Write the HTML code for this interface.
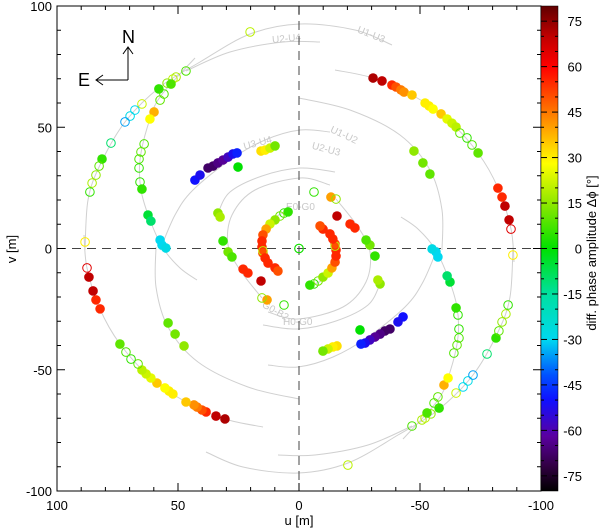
<!DOCTYPE html>
<html><head><meta charset="utf-8"><style>
html,body{margin:0;padding:0;background:#fff;width:600px;height:530px;overflow:hidden}
svg text{font-family:"Liberation Sans",sans-serif}
</style></head><body>
<svg id="chart" width="600" height="530" viewBox="0 0 600 530" xmlns="http://www.w3.org/2000/svg">
<defs><linearGradient id="cbg" x1="0" y1="0" x2="0" y2="1"></linearGradient>
<clipPath id="pc"><rect x="57" y="6" width="484" height="485"/></clipPath></defs>
<g id="tracks" clip-path="url(#pc)"></g>
<g id="tracklabels" fill="#c8c8c8" font-size="10">
<text x="272" y="42" transform="rotate(-5 283 38)">U2-U4</text>
<text x="357" y="38" transform="rotate(22 372 34)">U1-U3</text>
<text x="243" y="146" transform="rotate(-15 258 142)">U3-U4</text>
<text x="330" y="138" transform="rotate(25 344 134)">U1-U2</text>
<text x="312" y="152" transform="rotate(15 325 148)">U2-U3</text>
<text x="286" y="210">E0-G0</text>
<text x="283" y="325">H0-G0</text>
<text x="262" y="312" transform="rotate(30 272 308)">G0-B2</text>
</g>
<g id="guides" stroke="#444" stroke-width="1" stroke-dasharray="9,6">
<line x1="299" y1="6" x2="299" y2="491"/><line x1="57" y1="248.5" x2="541" y2="248.5"/></g>
<g id="points" clip-path="url(#pc)"></g>
<rect x="57" y="6" width="484" height="485" fill="none" stroke="#000" stroke-width="1"/>
<g id="ticks" stroke="#000" stroke-width="1"></g>
<g id="ticklabels" font-size="13" fill="#000"></g>
<text x="299" y="525" font-size="13" text-anchor="middle">u [m]</text>
<text x="16" y="249" font-size="13" text-anchor="middle" transform="rotate(-90 16 249)">v [m]</text>
<g stroke="#000" stroke-width="1" fill="none">
<line x1="128" y1="80" x2="128" y2="47"/><polyline points="123,54 128,47 133,54"/>
<line x1="128" y1="80" x2="96" y2="80"/><polyline points="103,75 96,80 103,85"/></g>
<text x="122" y="43" font-size="18">N</text>
<text x="78" y="86" font-size="18">E</text>
<rect x="541" y="6" width="17" height="485" fill="url(#cbg)" stroke="#000" stroke-width="0.5"/>
<g id="cbticks" stroke="#000" stroke-width="1"></g>
<g id="cblabels" font-size="13" fill="#000"></g>
<text x="596" y="253" font-size="13" text-anchor="middle" transform="rotate(-90 596 253)">diff. phase amplitude Δϕ [°]</text>
</svg>
<script>
const uVals=[20.2,46.7,50.8,52.1,54.5,52.9,57.9,55.8,57.4,64.9,67.8,69.8,71.9,77.7,81.4,82.6,83.9,85.5,86.4,88.4,
59.9,61.6,64.0,65.3,66.1,66.1,65.7,64.9,62.4,61.2,57.4,56.6,55.0,
43.0,40.9,37.6,35.5,33.5,31.4,29.3,27.3,25.6,25.2,15.7,14.0,12.0,9.9,
33.5,32.6,31.4,29.3,27.7,23.1,21.1,15.7,13.2,15.3,6.2,
4.5,6.2,7.9,9.9,12.0,13.6,14.9,15.3,15.3,14.9,14.9,14.0,12.8,9.9,8.7,
-30.6,-34.3,-38.4,-40.1,-42.1,-43.4,-46.7,-52.1,-53.7,-55.4,-58.7,-61.2,-63.2,-64.9,-66.5,-69.4,-71.5,-74.0,-82.2,-83.9,-85.1,-86.8,-87.6,
-47.5,-51.2,-54.1,0];
const vVals=[89.3,73.2,70.7,69.9,68.2,67.8,65.8,63.7,61.2,59.6,57.1,54.6,52.2,43.5,36.9,34.0,30.3,27.0,23.3,2.7,
56.3,53.4,43.1,39.8,36.9,33.2,27.4,24.5,13.8,11.3,3.5,1.4,0.2,
28.2,30.3,33.2,34.0,35.3,36.5,37.7,39.0,39.4,33.6,40.2,40.6,41.4,42.3,
14.6,13.0,3.1,-1.4,-3.5,-8.5,-10.1,-13.4,-21.2,-20.4,-23.3,
15.1,14.6,13.4,11.8,10.1,8.0,5.6,3.1,0.6,-1.9,-1.0,-3.9,-6.0,-8.0,-9.3,
70.3,69.1,67.4,66.6,65.4,64.5,63.3,60.0,58.8,57.5,55.5,53.4,51.7,50.1,47.6,45.6,42.7,39.4,24.9,21.2,17.5,11.8,8.0,
40.2,35.3,30.7,0];
const phaseVals=[20,8,18,20,15,8,5,8,10,22,-30,-28,-35,-10,5,10,15,18,5,30,
38,28,8,10,8,5,5,5,-5,-10,-30,-30,-28,
-50,-52,-68,-68,-65,-63,-58,-52,-48,0,32,30,22,12,
15,18,5,12,8,55,55,70,40,15,5,
5,5,12,15,22,40,50,55,55,50,20,55,55,55,50,
72,70,55,50,45,42,35,30,30,28,35,25,22,20,10,5,8,10,55,55,70,70,65,
15,12,10,2];
const filledFlags=[0,0,0,0,0,1,1,0,0,0,0,0,0,0,1,0,0,0,0,0,
1,1,0,0,0,0,0,1,1,1,1,1,1,
1,1,1,1,1,1,1,1,1,1,1,1,1,1,
1,1,1,1,1,1,1,1,1,0,0,
1,0,0,1,1,1,1,1,1,1,0,1,1,1,1,
1,1,1,1,1,1,1,1,1,1,1,1,1,1,0,0,0,1,1,1,1,1,0,
1,1,1,0];
const xTicks=[100,50,0,-50,-100];
const yTicks=[100,50,0,-50,-100];
const cbTicks=[75,60,45,30,15,0,-15,-30,-45,-60,-75];

const NS='http://www.w3.org/2000/svg';
const X0=57,X1=541,Y0=6,Y1=491;
const xs=u=>X0+(100-u)/200*(X1-X0);
const ys=v=>Y0+(100-v)/200*(Y1-Y0);
const cbY=p=>Y0+(80-p)/160*(Y1-Y0);
const stops=[[-80,'#000000'],[-72,'#300040'],[-62,'#5a00a0'],[-50,'#1010ff'],[-42,'#0050ff'],[-30,'#00d8f0'],[-15,'#00e0a0'],[0,'#00e000'],[15,'#90e800'],[28,'#ffff00'],[40,'#ffa000'],[52,'#ff4000'],[60,'#ff0000'],[70,'#c00000'],[80,'#600000']];
function hex(c){return [1,3,5].map(i=>parseInt(c.substr(i,2),16));}
function col(p){p=Math.max(-80,Math.min(80,p));for(let i=0;i<stops.length-1;i++){const a=stops[i],b=stops[i+1];if(p<=b[0]){const t=(p-a[0])/(b[0]-a[0]);const ca=hex(a[1]),cb=hex(b[1]);return 'rgb('+ca.map((v,k)=>Math.round(v+(cb[k]-v)*t)).join(',')+')';}}return stops[stops.length-1][1];}
function mk(tag,attrs,parent){const e=document.createElementNS(NS,tag);for(const k in attrs)e.setAttribute(k,attrs[k]);parent.appendChild(e);return e;}

const grad=document.getElementById('cbg');
stops.slice().reverse().forEach(s=>{mk('stop',{offset:((80-s[0])/160).toFixed(3),'stop-color':s[1]},grad);});

// tracks (decorative guides)
const tr=[[[85,250],[88,200],[100,165],[125,122],[160,87],[200,62],[250,34],[300,24],[355,30],[392,45]],
[[186,71],[230,52],[283,42],[320,42]],
[[335,70],[373,78],[412,95],[447,119],[478,153],[498,188],[511,229],[514,262]],
[[195,58],[160,97],[148,125],[140,160],[141,190],[150,220],[163,248],[180,268],[197,280]],
[[299,98],[350,110],[400,135],[430,170],[442,210],[442,250]],
[[160,250],[175,215],[193,190],[230,160],[265,140],[300,130],[330,132]],
[[262,298],[240,270],[228,245],[232,215],[255,190],[300,178],[330,185]],
[[218,213],[230,192],[262,176],[300,168],[335,172]],
[[283,213],[268,222],[262,240],[265,262],[280,275]]];
function cr(p){let d='M'+p[0][0]+','+p[0][1];for(let i=0;i<p.length-1;i++){const a=p[Math.max(0,i-1)],b=p[i],c=p[i+1],e=p[Math.min(p.length-1,i+2)];d+=' C'+(b[0]+(c[0]-a[0])/6)+','+(b[1]+(c[1]-a[1])/6)+' '+(c[0]-(e[0]-b[0])/6)+','+(c[1]-(e[1]-b[1])/6)+' '+c[0]+','+c[1];}return d;}
const tg=document.getElementById('tracks');
tr.forEach(p=>{[p,p.map(q=>[598-q[0],497-q[1]])].forEach(pp=>{const e=mk('path',{d:cr(pp),fill:'none',stroke:'#d0d0d0','stroke-width':1},tg);

});});

// points + mirror
const pg=document.getElementById('points');
for(let i=0;i<uVals.length;i++){[1,-1].forEach(s=>{const c=col(phaseVals[i]);const e=mk('circle',{cx:xs(s*uVals[i]),cy:ys(s*vVals[i]),r:filledFlags[i]?4.8:4.3,fill:filledFlags[i]?c:'none',stroke:c,'stroke-width':filledFlags[i]?0:1},pg);

});}

// axes ticks
const tk=document.getElementById('ticks'),tl=document.getElementById('ticklabels');
for(let u=-100;u<=100;u+=10){const x=xs(u),L=(u%50===0)?8:4;mk('line',{x1:x,y1:Y1,x2:x,y2:Y1-L},tk);mk('line',{x1:x,y1:Y0,x2:x,y2:Y0+L},tk);
const y=ys(u);mk('line',{x1:X0,y1:y,x2:X0+L,y2:y},tk);mk('line',{x1:X1,y1:y,x2:X1-L,y2:y},tk);}
xTicks.forEach(u=>{const e=mk('text',{x:xs(u),y:510,'text-anchor':'middle'},tl);e.textContent=u;

});
yTicks.forEach(v=>{const e=mk('text',{x:52,y:ys(v)+5,'text-anchor':'end'},tl);e.textContent=v;

});
const ct=document.getElementById('cbticks'),cl=document.getElementById('cblabels');
for(let p=-75;p<=75;p+=5){const y=cbY(p);mk('line',{x1:541,y1:y,x2:p%15===0?547:544,y2:y},ct);mk('line',{x1:558,y1:y,x2:p%15===0?552:555,y2:y},ct);}
cbTicks.forEach(p=>{const e=mk('text',{x:582,y:cbY(p)+5,'text-anchor':'end'},cl);e.textContent=p;

});
</script>
</body></html>
